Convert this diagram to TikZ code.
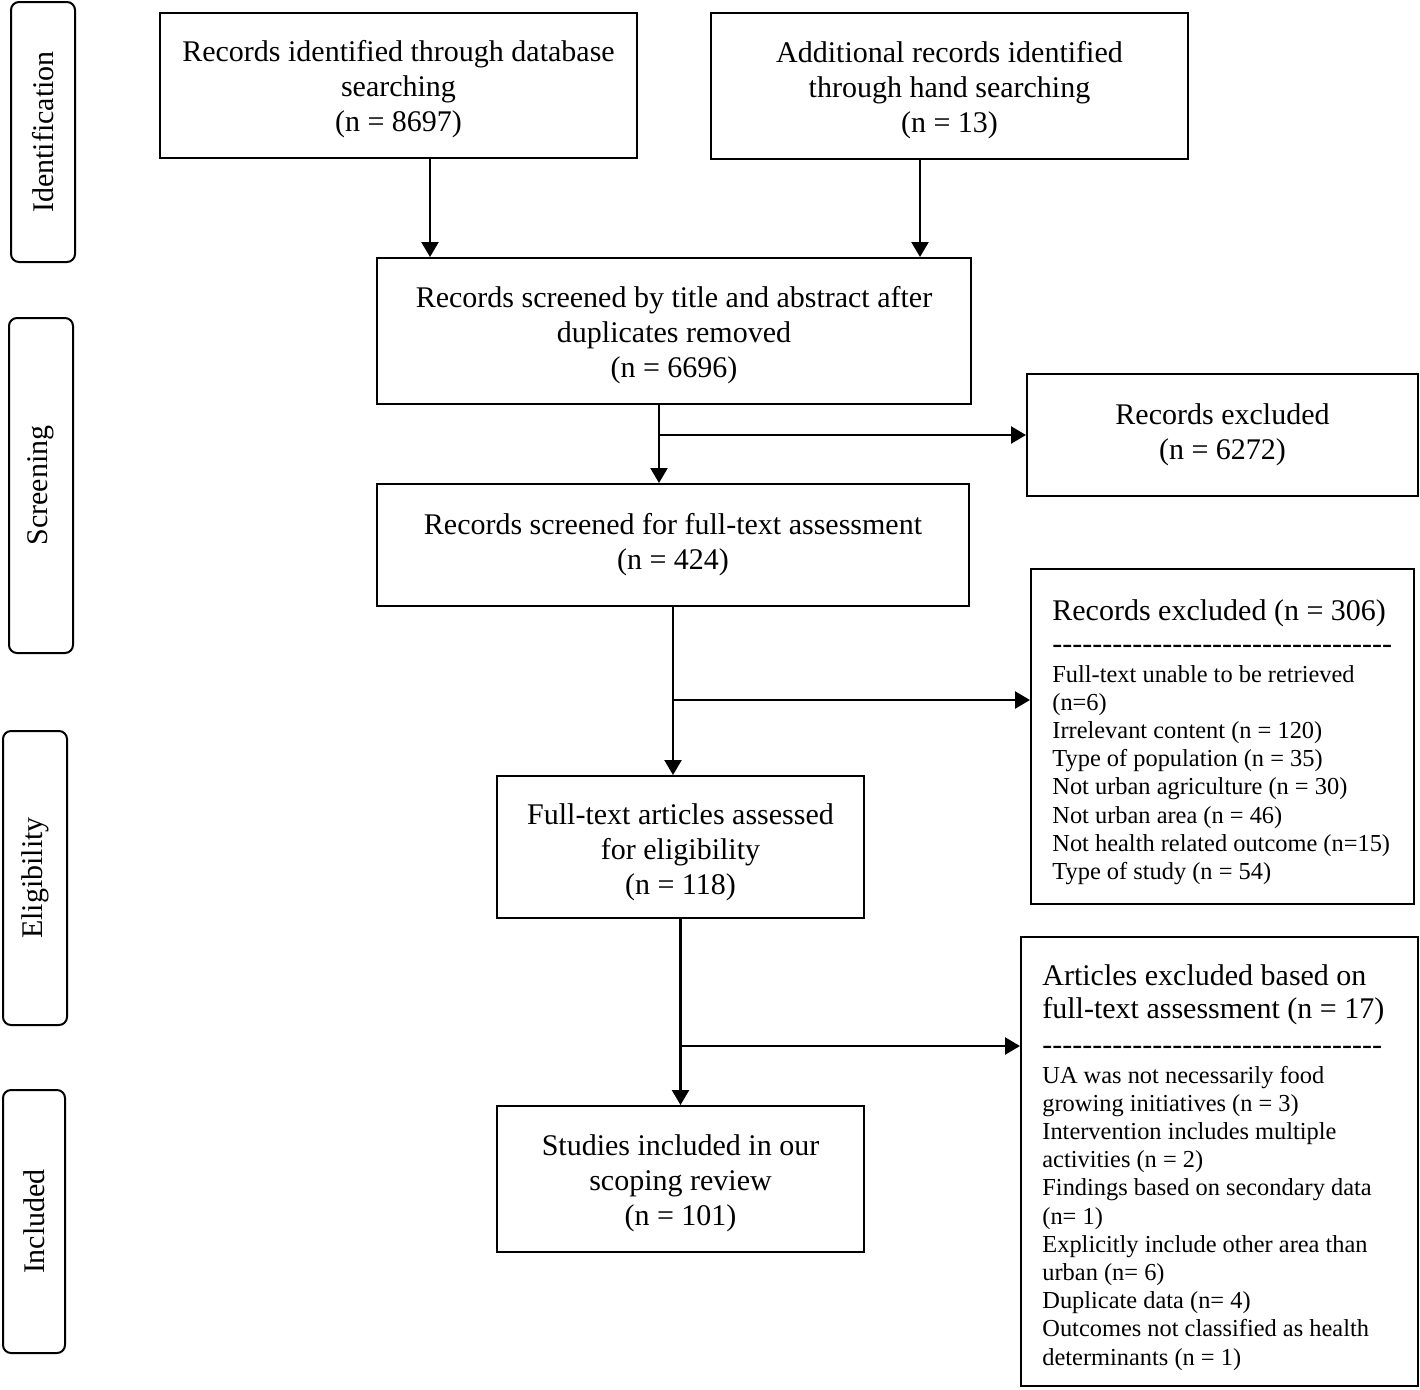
\documentclass[tikz,border=0pt]{standalone}
\usepackage{fontspec}
\setmainfont{Liberation Serif}[Ligatures={TeX,NoCommon}]
\usetikzlibrary{arrows.meta,calc}
\newcommand\dashrow[1]{\count255=0 \loop\hbox{-}\advance\count255 by 1 \ifnum\count255<#1\repeat}
\newcommand\toppad[1]{\rule{0pt}{#1}}
\begin{document}
\begin{tikzpicture}[x=0.5pt,y=-0.5pt,
  box/.style={draw, line width=1pt, inner sep=0pt, align=center, font=\fontsize{15}{17.5}\selectfont},
  side/.style={draw, line width=1pt, rounded corners=4pt, rotate=90, inner sep=0pt, font=\fontsize{15}{17.5}\selectfont},
  arr/.style={line width=1.2pt, -{Triangle[length=7.5pt,width=8.5pt]}},
  head/.style={anchor=base west, inner sep=0pt, font=\fontsize{15}{16.5}\selectfont},
  list/.style={anchor=north west, inner sep=0pt, align=left, font=\fontsize{12.2}{14.1}\selectfont}]
\useasboundingbox (0,0) rectangle (1420,1389);
% side labels
\node[side, minimum width=130pt, minimum height=32pt] (s1) at (43,132) {Identification};
\node[side, minimum width=167.5pt, minimum height=32pt] (s2) at (41,485.5) {Screening};
\node[side, minimum width=147pt, minimum height=32pt] (s3) at (35,878) {Eligibility};
\node[side, minimum width=131.5pt, minimum height=31pt] (s4) at (34,1221.5) {Included};
% main boxes
\node[box, minimum width=238.5pt, minimum height=72.5pt] (A) at (398.5,85.5) {\toppad{14.5pt}Records identified through database\\searching\\(n = 8697)};
\node[box, minimum width=238.5pt, minimum height=73pt] (B) at (949.5,86) {\toppad{14.5pt}Additional records identified\\through hand searching\\(n = 13)};
\node[box, minimum width=297pt, minimum height=73pt] (C) at (674,331) {\toppad{14.5pt}Records screened by title and abstract after\\duplicates removed\\(n = 6696)};
\node[box, minimum width=195.5pt, minimum height=61pt] (D) at (1222.5,435) {Records excluded\\(n = 6272)};
\node[box, minimum width=296pt, minimum height=61pt] (E) at (673,545) {Records screened for full-text assessment\\(n = 424)};
\node[box, minimum width=191.5pt, minimum height=167.5pt] (F) at (1222.5,736.5) {};
\node[box, minimum width=183.5pt, minimum height=71pt] (G) at (680.5,847) {\toppad{15.8pt}Full-text articles assessed\\for eligibility\\(n = 118)};
\node[box, minimum width=198.5pt, minimum height=224.5pt] (H) at (1219.5,1161.5) {};
\node[box, minimum width=183.5pt, minimum height=73pt] (I) at (680.5,1179) {\toppad{14.8pt}Studies included in our\\scoping review\\(n = 101)};
% texts of the exclusion boxes
\node[head] (Fh) at (1052,620) {Records excluded (n = 306)};
\node[head] (Fd) at (1052,653) {\dashrow{34}};
\node[list] (Fl) at (1052,662) {\strut Full-text unable to be retrieved\\(n=6)\\Irrelevant content (n = 120)\\Type of population (n = 35)\\Not urban agriculture (n = 30)\\Not urban area (n = 46)\\Not health related outcome (n=15)\\Type of study (n = 54)};
\node[head, anchor=north west, align=left] (Hh) at (1042,962) {\strut Articles excluded based on\\full-text assessment (n = 17)};
\node[head] (Hd) at (1042,1054) {\dashrow{34}};
\node[list] (Hl) at (1042,1063) {\strut UA was not necessarily food\\growing initiatives (n = 3)\\Intervention includes multiple\\activities (n = 2)\\Findings based on secondary data\\(n= 1)\\Explicitly include other area than\\urban (n= 6)\\Duplicate data (n= 4)\\Outcomes not classified as health\\determinants (n = 1)};
% connectors
\draw[arr] ([xshift=15.75pt]A.south) -- ([xshift=15.75pt]A.south |- C.north);
\draw[arr] ([xshift=-14.75pt]B.south) -- ([xshift=-14.75pt]B.south |- C.north);
\coordinate (c1) at ([xshift=-7.5pt]C.south);
\draw[arr] (c1) -- (c1 |- E.north);
\draw[arr] (c1 |- D.west) -- (D.west);
\draw[arr] (E.south) -- (E.south |- G.north);
\coordinate (f1) at ([yshift=18.25pt]F.west);
\draw[arr] (E.south |- f1) -- (f1);
\draw[arr] (G.south) -- (G.south |- I.north);
\coordinate (h1) at ([yshift=57.75pt]H.west);
\draw[arr] (G.south |- h1) -- (h1);
\end{tikzpicture}
\end{document}
